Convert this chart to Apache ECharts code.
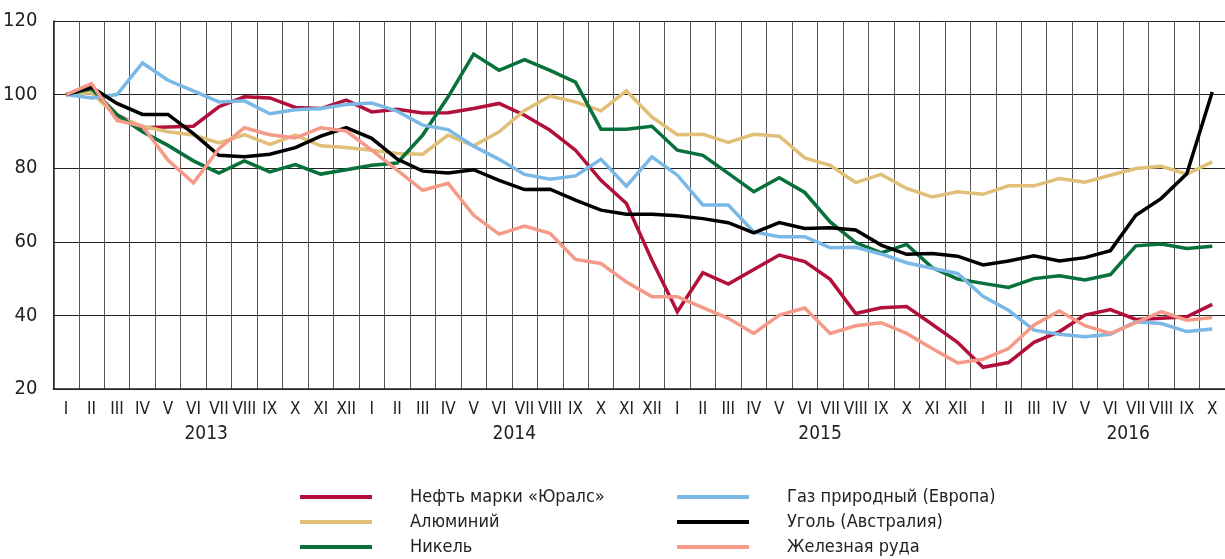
<!DOCTYPE html>
<html>
<head>
<meta charset="utf-8">
<script src="https://cdn.jsdelivr.net/npm/echarts@6/dist/echarts.min.js"></script>
<style>
  html, body { margin: 0; padding: 0; background: #fff; }
  #chart { width: 1225px; height: 559px; }
</style>
</head>
<body>
<div id="chart"></div>
<script>
// месяцы I 2013 – X 2016
const months = [
  'I','II','III','IV','V','VI','VII','VIII','IX','X','XI','XII',
  'I','II','III','IV','V','VI','VII','VIII','IX','X','XI','XII',
  'I','II','III','IV','V','VI','VII','VIII','IX','X','XI','XII',
  'I','II','III','IV','V','VI','VII','VIII','IX','X'
]
const years = ['2013', '2014', '2015', '2016']
const yearPos = [5.5, 17.6, 29.6, 41.7]  // где подписан год (в индексах месяцев)
const yTicks = [20, 40, 60, 80, 100, 120]

const oil = [100, 101.5, 94.5, 91, 91.2, 91.4, 96.7, 99.4, 99.1, 96.5, 96.2, 98.5,
  95.3, 96, 95, 95.1, 96.2, 97.6, 94.4, 90.3, 84.9, 76.7, 70.4, 55,
  41, 51.6, 48.5, 52.5, 56.4, 54.6, 49.8, 40.5, 42.1, 42.4, 37.6, 32.7,
  25.9, 27.2, 32.7, 35.6, 40.1, 41.6, 38.9, 39.2, 39.6, 43]
const aluminium = [100, 100.5, 94, 91.4, 89.9, 89, 86.9, 89.1, 86.5, 89, 86.1, 85.6,
  84.9, 84, 83.8, 89, 86.1, 89.9, 95.7, 99.6, 98, 95.6, 101, 93.9,
  89.1, 89.2, 87, 89.2, 88.7, 82.8, 80.8, 76.1, 78.3, 74.5, 72.2, 73.6,
  72.9, 75.2, 75.2, 77.2, 76.2, 78.1, 79.9, 80.5, 78.4, 81.7]
const nickel = [100, 101.6, 94.5, 89.9, 86.2, 82, 78.7, 82, 79, 81, 78.4, 79.6,
  80.8, 81.4, 89, 99.4, 111, 106.6, 109.5, 106.6, 103.4, 90.6, 90.6, 91.4,
  84.9, 83.5, 78.6, 73.6, 77.4, 73.4, 65.4, 59.8, 57, 59.3, 53, 49.9,
  48.7, 47.6, 50, 50.8, 49.6, 51.1, 58.9, 59.4, 58.2, 58.8]
const gas = [100, 99.1, 100, 108.6, 103.9, 101, 98, 98.3, 94.8, 95.9, 96.2, 97.3,
  97.7, 95.5, 91.7, 90.5, 86, 82.4, 78.3, 77, 77.9, 82.4, 75.1, 83.1,
  78.1, 70, 70, 62.7, 61.4, 61.4, 58.4, 58.5, 56.7, 54.3, 52.8, 51.4,
  45.2, 41.4, 36, 34.9, 34.2, 34.9, 38.3, 37.8, 35.6, 36.3]
const coal = [100, 102, 97.6, 94.6, 94.6, 89.4, 83.5, 83.1, 83.8, 85.6, 88.7, 91,
  88.1, 82.5, 79.2, 78.7, 79.6, 76.7, 74.2, 74.3, 71.3, 68.6, 67.5, 67.5,
  67.1, 66.3, 65.2, 62.4, 65.2, 63.6, 63.8, 63.2, 59.1, 56.6, 56.8, 56.1,
  53.7, 54.8, 56.2, 54.8, 55.7, 57.6, 67.2, 71.8, 78.5, 100.7]
const ironOre = [100, 103, 93, 91.4, 82.2, 76, 85.3, 91, 89.1, 88.2, 91, 90.1,
  84.9, 79.5, 74, 75.9, 67.2, 62.1, 64.3, 62.3, 55.2, 54.1, 49.1, 45.1,
  45.1, 42.1, 39.2, 35.1, 40.1, 42, 35.1, 37.2, 38, 35.1, 31, 27.1,
  28.1, 31, 37.4, 41.2, 37.2, 35.1, 38, 41, 38.7, 39.4]

const FONT = "'Liberation Sans Narrow', 'DejaVu Sans Condensed', 'Roboto Condensed', sans-serif"

const seriesDefs = [
  { name: 'Нефть марки «Юралс»', data: oil, color: '#b2103a' },
  { name: 'Алюминий', data: aluminium, color: '#e2bf78' },
  { name: 'Никель', data: nickel, color: '#08703a' },
  { name: 'Газ природный (Европа)', data: gas, color: '#7ab8e6' },
  { name: 'Уголь (Австралия)', data: coal, color: '#000000' },
  { name: 'Железная руда', data: ironOre, color: '#f59a88' }
]

const chart = echarts.init(document.getElementById('chart'))

const legendBase = {
  orient: 'vertical',
  top: 487,
  height: 80,
  padding: 0,
  icon: 'rect',
  itemWidth: 72,
  itemHeight: 4,
  itemGap: 5,
  selectedMode: false,
  textStyle: {
    fontFamily: FONT,
    fontSize: 18,
    lineHeight: 20,
    color: '#222',
    padding: [0, 0, 0, 33]
  }
}

const option = {
  animation: false,
  textStyle: { fontFamily: FONT },
  grid: { left: 53, top: 21, width: 1180, height: 368 },
  legend: [
    Object.assign({}, legendBase, { left: 300, data: seriesDefs.slice(0, 3).map(s => s.name) }),
    Object.assign({}, legendBase, { left: 677, data: seriesDefs.slice(3).map(s => s.name) })
  ],
  xAxis: [
    {
      type: 'category',
      data: months,
      boundaryGap: true,
      axisLine: { lineStyle: { color: '#222', width: 1.5 } },
      axisTick: { show: false },
      axisLabel: { interval: 0, fontSize: 17, margin: 12, color: '#222', fontFamily: FONT },
      splitLine: { show: true, interval: 0, lineStyle: { color: '#555', width: 1 } }
    },
    {
      type: 'value',
      position: 'bottom',
      offset: 28,
      min: -0.5,
      max: 45.5,
      axisLine: { show: false },
      axisTick: { show: false },
      splitLine: { show: false },
      axisLabel: {
        customValues: yearPos,
        formatter: v => years[yearPos.indexOf(v)] || '',
        fontSize: 19,
        margin: 8,
        color: '#222',
        fontFamily: FONT
      }
    }
  ],
  yAxis: {
    type: 'value',
    min: yTicks[0],
    max: yTicks[yTicks.length - 1],
    interval: 20,
    axisLine: { show: true, onZero: false, lineStyle: { color: '#222', width: 1.5 } },
    axisTick: { show: false },
    axisLabel: { fontSize: 20, margin: 16, color: '#222', fontFamily: FONT },
    splitLine: { show: true, lineStyle: { color: '#222', width: 1 } }
  },
  series: seriesDefs.map(s => ({
    name: s.name,
    type: 'line',
    data: s.data,
    symbol: 'none',
    color: s.color,
    lineStyle: { color: s.color, width: 3.5, join: 'miter' }
  }))
}

chart.setOption(option)
</script>
</body>
</html>
